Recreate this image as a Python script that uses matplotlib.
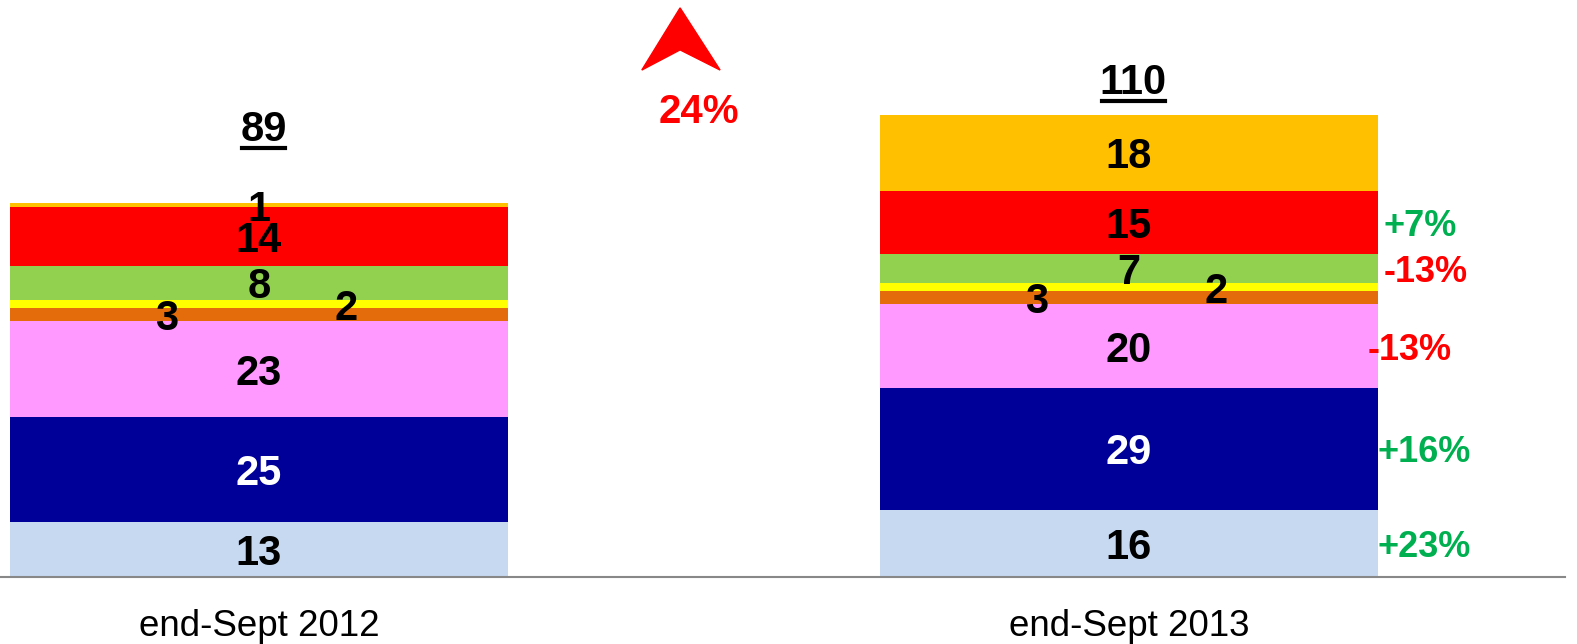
import matplotlib
matplotlib.use("Agg")
import matplotlib.pyplot as plt
from matplotlib.patches import Polygon
from matplotlib.lines import Line2D

plt.rcParams["font.family"] = ["Liberation Sans", "DejaVu Sans"]

# stacked segments, bottom to top
periods = ["end-Sept 2012", "end-Sept 2013"]
values_2012 = [13, 25, 23, 3, 2, 8, 14, 1]
values_2013 = [16, 29, 20, 3, 2, 7, 15, 18]
segment_colours = ["#C6D9F1", "#000099", "#FF99FF", "#E46C0A",
                   "#FFFF00", "#92D050", "#FF0000", "#FFC000"]
label_colours = ["black", "white", "black", "black",
                 "black", "black", "black", "black"]
# year-on-year change shown to the right of the 2013 bar (None = no label)
changes = ["+23%", "+16%", "-13%", None, None, "-13%", "+7%", None]
total_growth = "24%"

bar_width = 0.572
# small segments get their labels pushed sideways so they don't collide
label_shift = [0, 0, 0, -0.106, 0.10, 0, 0, 0]
change_shift_pt = [0, 0, -7, 0, 0, 4, 4, 0]

fig = plt.figure(figsize=(15.77, 6.44), dpi=100)
ax = fig.add_axes([0, 67 / 644, 1565 / 1577, 577 / 644])
ax.set_xlim(-259 / 870, 1306 / 870)
ax.set_ylim(0, 577 / 4.2)

for i, vals in enumerate([values_2012, values_2013]):
    bottom = 0
    for j, v in enumerate(vals):
        ax.bar(i, v, bottom=bottom, width=bar_width,
               color=segment_colours[j], linewidth=0)
        ax.text(i + label_shift[j], bottom + v / 2, str(v),
                ha="center", va="center_baseline", fontsize=30,
                fontweight="bold", color=label_colours[j])
        bottom += v

# change labels next to the 2013 bar
bottom = 0
for j, v in enumerate(values_2013):
    if changes[j] is not None:
        colour = "#00B050" if changes[j].startswith("+") else "#FF0000"
        ax.annotate(changes[j], xy=(1 + bar_width / 2, bottom + v / 2),
                    xytext=(change_shift_pt[j], 0), textcoords="offset points",
                    ha="left", va="center_baseline", fontsize=26,
                    fontweight="bold", color=colour)
    bottom += v

# underlined totals above each bar
totals = [sum(values_2012), sum(values_2013)]
total_gap = [18.6, 8.8]
total_texts = []
for i, tot in enumerate(totals):
    t = ax.text(i + 0.005, tot + total_gap[i], str(tot), ha="center",
                va="center_baseline", fontsize=30, fontweight="bold")
    total_texts.append(t)

# red arrow head and overall growth
arrow = Polygon([(0.484, 135.5), (0.440, 120.7), (0.484, 125.5), (0.530, 120.7)],
                closed=True, color="#FF0000", clip_on=False)
ax.add_patch(arrow)
ax.text(0.506, 111.7, total_growth, ha="center", va="center_baseline",
        fontsize=29, fontweight="bold", color="#FF0000")

ax.set_xticks([0, 1])
ax.set_xticklabels(periods, fontsize=26.5)
ax.tick_params(axis="x", length=0, pad=23)
ax.set_yticks([])
for side in ["top", "right", "left"]:
    ax.spines[side].set_visible(False)
ax.spines["bottom"].set_color("#888888")
ax.spines["bottom"].set_linewidth(1.5)

# draw underlines beneath the totals
fig.canvas.draw()
inv = fig.transFigure.inverted()
for t in total_texts:
    bb = t.get_window_extent()
    x0, y0 = inv.transform((bb.x0 + 2, bb.y0 + 2))
    x1, _ = inv.transform((bb.x1 - 2, bb.y0 + 2))
    fig.lines.append(Line2D([x0, x1], [y0, y0], transform=fig.transFigure,
                            color="black", linewidth=3))

fig.savefig("out.png", dpi=100)
